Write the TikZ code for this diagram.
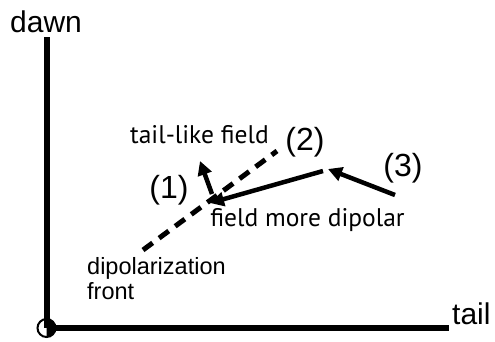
\documentclass[tikz,border=0pt]{standalone}
\usepackage{fontspec}
\setmainfont{Liberation Sans}
\newfontfamily\myr{PT Sans}
\usetikzlibrary{arrows.meta}
\begin{document}
\begin{tikzpicture}[x=1pt,y=-1pt,
  axis/.style={line width=6pt},
  arr/.style={line width=4.5pt,-{Triangle[length=14pt,width=14pt]}},
  front/.style={line width=5pt,dash pattern=on 12pt off 8pt},
  lbl/.style={inner sep=0pt,font=\fontsize{30}{32}\selectfont},
  nlbl/.style={inner sep=0pt,font=\fontsize{32}{34}\selectfont},
  mlbl/.style={inner sep=0pt,font=\myr\fontsize{25.5}{27}\selectfont},
  slbl/.style={inner sep=0pt,align=left,font=\fontsize{23.5}{25}\selectfont}]
\useasboundingbox (0,0) rectangle (495,341);
% axes
\coordinate (o) at (46.5,328);
\coordinate (top) at (46.5,37);
\coordinate (right) at (449,328);
\draw[line width=2pt] (o) circle (9);
\fill (o) -- ++(0,-9) arc[start angle=-90,end angle=90,radius=9] -- cycle;
\draw[axis] (top) -- (o |- right);
\draw[axis] (o) -- (right);
\node[lbl,anchor=base west] (dawn) at (10,32) {dawn};
\node[lbl,anchor=base west] (tail) at (452,324) {tail};
% dipolarization front
\coordinate (fa) at (143,250);
\coordinate (fb) at (277,151);
\draw[front] (fa) -- (fb);
% arrows
\coordinate (p2) at (323,171);
\coordinate (p1) at (210,203);
\coordinate (p3) at (395,195);
\coordinate (p2b) at (328,169);
\coordinate (q1) at (212,194);
\coordinate (q2) at (200,161);
\draw[arr] (p2) -- (p1);
\draw[arr] (p3) -- (p2b);
\draw[arr] (q1) -- (q2);
% labels
\node[nlbl] (l1) at (169,190) {(1)};
\node[nlbl] (l2) at (305,142) {(2)};
\node[nlbl] (l3) at (403,168) {(3)};
\node[mlbl,anchor=base] (tl) at (199.5,143) {tail-like field};
\node[mlbl,anchor=base] (md) at (307.5,226) {field more dipolar};
\node[slbl,anchor=base west] (df) at (87,299) {dipolarization\\front};
\end{tikzpicture}
\end{document}
